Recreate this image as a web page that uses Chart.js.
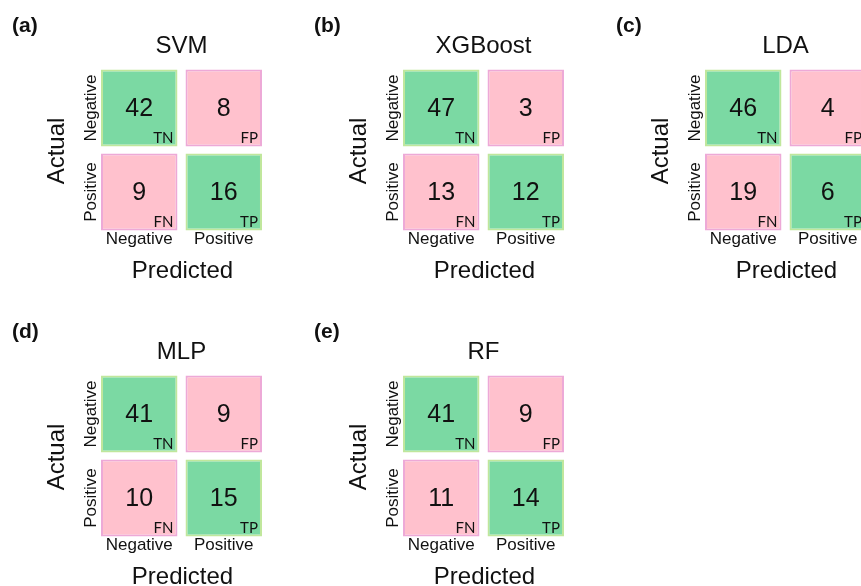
<!DOCTYPE html>
<html>
<head>
<meta charset="utf-8">
<title>Confusion matrices</title>
<script src="https://cdn.jsdelivr.net/npm/chart.js@4.4.1/dist/chart.umd.min.js"></script>
<style>
  html, body { margin: 0; padding: 0; background: #ffffff; }
  body { width: 861px; height: 586px; overflow: hidden; position: relative; }
  .panel { position: absolute; width: 302px; height: 306px; }
  .panel canvas { display: block; }
</style>
</head>
<body>
<div id="grid"></div>
<script>
// Classifier results (test set counts)
const models    = ['SVM', 'XGBoost', 'LDA', 'MLP', 'RF'];
const panelTags = ['(a)', '(b)', '(c)', '(d)', '(e)'];
const tn = [42, 47, 46, 41, 41];
const fp = [8, 3, 4, 9, 9];
const fn = [9, 13, 19, 10, 11];
const tp = [16, 12, 6, 15, 14];
const classLabels = ['Negative', 'Positive'];
const cellCodes = [['TN', 'FP'], ['FN', 'TP']];

// Styling
const PANEL_W = 302, PANEL_H = 306, COLS = 3;
const GREEN = '#7bd9a3', GREEN_EDGE = '#c0e79c';
const PINK = '#ffc1cd', PINK_EDGE = '#eda9d7';
const INK = '#111111';
const SANS = '"Liberation Sans", Arial, sans-serif';
const ROW_GAP = 0.042; // vertical inset of each cell inside its row band

function vText(ctx, s, x, y) {
  ctx.save();
  ctx.translate(x, y);
  ctx.rotate(-Math.PI / 2);
  ctx.textAlign = 'center';
  ctx.textBaseline = 'middle';
  ctx.fillText(s, 0, 0);
  ctx.restore();
}

const matrixText = {
  id: 'matrixText',
  afterDatasetsDraw(chart, args, opts) {
    const { ctx, chartArea: a, scales: { x, y } } = chart;
    ctx.save();
    ctx.fillStyle = INK;

    // counts and outcome codes inside each cell
    chart.data.datasets.forEach((ds, di) => {
      chart.getDatasetMeta(di).data.forEach((bar, i) => {
        const p = bar.getProps(['x', 'y', 'base', 'width'], true);
        const top = Math.min(p.y, p.base), bottom = Math.max(p.y, p.base);
        const item = ds.data[i];
        ctx.font = '25px ' + SANS;
        ctx.textAlign = 'center';
        ctx.textBaseline = 'middle';
        ctx.fillText(String(item.n), p.x, (top + bottom) / 2 + 1);
        ctx.font = '15px Lato, "Open Sans", sans-serif';
        ctx.textAlign = 'right';
        ctx.textBaseline = 'alphabetic';
        ctx.fillText(item.code, p.x + p.width / 2 - 4, bottom - 3);
      });
    });

    // panel tag
    ctx.font = 'bold 21px ' + SANS;
    ctx.textAlign = 'left';
    ctx.textBaseline = 'middle';
    ctx.fillText(opts.tag, 12, 26);

    // model title
    ctx.font = '24px ' + SANS;
    ctx.textAlign = 'center';
    ctx.fillText(opts.title, (a.left + a.right) / 2, a.top - 20);

    // predicted-class ticks and axis title
    ctx.font = '17px ' + SANS;
    classLabels.forEach((lab, i) => {
      ctx.fillText(lab, x.getPixelForValue(i), a.bottom + 5);
    });
    ctx.font = '24px ' + SANS;
    ctx.fillText('Predicted', (a.left + a.right) / 2 + 1, a.bottom + 37);

    // actual-class ticks and axis title
    ctx.font = '17px ' + SANS;
    vText(ctx, classLabels[0], a.left - 6, y.getPixelForValue(1.5));
    vText(ctx, classLabels[1], a.left - 6, y.getPixelForValue(0.5));
    ctx.font = '24px ' + SANS;
    vText(ctx, 'Actual', a.left - 40, (a.top + a.bottom) / 2 + 1);

    ctx.restore();
  }
};

const grid = document.getElementById('grid');

models.forEach((name, k) => {
  const div = document.createElement('div');
  div.className = 'panel';
  div.style.left = (k % COLS) * PANEL_W + 'px';
  div.style.top = Math.floor(k / COLS) * PANEL_H + 'px';
  const canvas = document.createElement('canvas');
  canvas.width = PANEL_W;
  canvas.height = PANEL_H;
  div.appendChild(canvas);
  grid.appendChild(div);

  const counts = [[tn[k], fp[k]], [fn[k], tp[k]]];
  // row 0 = actual Negative (upper band 1..2), row 1 = actual Positive (lower band 0..1)
  const datasets = [0, 1].map(r => {
    const band = 1 - r;
    return {
      label: 'Actual ' + classLabels[r],
      data: classLabels.map((pred, c) => ({
        x: pred,
        y: [band + ROW_GAP, band + 1 - ROW_GAP],
        n: counts[r][c],
        code: cellCodes[r][c]
      })),
      backgroundColor: classLabels.map((_, c) => (r === c ? GREEN : PINK)),
      borderColor: classLabels.map((_, c) => (r === c ? GREEN_EDGE : PINK_EDGE)),
      borderWidth: 2,
      borderSkipped: false,
      grouped: false,
      barPercentage: 0.905,
      categoryPercentage: 1.0
    };
  });

  new Chart(canvas, {
    type: 'bar',
    data: { labels: classLabels, datasets },
    options: {
      responsive: false,
      animation: false,
      devicePixelRatio: 1,
      layout: { padding: { left: 97, right: 36, top: 66, bottom: 72 } },
      scales: {
        x: { type: 'category', display: false },
        y: { type: 'linear', min: 0, max: 2, display: false }
      },
      plugins: {
        legend: { display: false },
        tooltip: { enabled: false },
        matrixText: { tag: panelTags[k], title: name }
      }
    },
    plugins: [matrixText]
  });
});
</script>
</body>
</html>
